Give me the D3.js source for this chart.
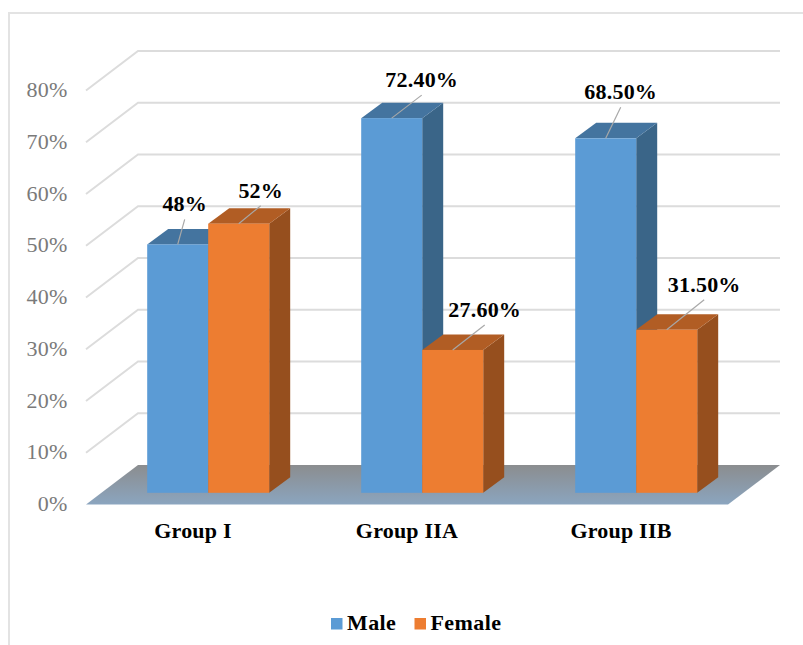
<!DOCTYPE html>
<html>
<head>
<meta charset="utf-8">
<style>
    body { margin: 0; background: #fff; }
    svg { display: block; }
    text { font-family: "Liberation Serif", "Times New Roman", serif; }
</style>
<script src="https://cdn.jsdelivr.net/npm/d3@7"></script>
</head>
<body>
<script>
const groups = ['Group I', 'Group IIA', 'Group IIB'];
const seriesNames = ['Male', 'Female'];
const maleValues = [48, 72.4, 68.5];
const femaleValues = [52, 27.6, 31.5];
const maleLabels = ['48%', '72.40%', '68.50%'];
const femaleLabels = ['52%', '27.60%', '31.50%'];
const yTicks = [0, 10, 20, 30, 40, 50, 60, 70, 80];

const w = 803;
const h = 645;

// front edge of the floor, and how far the back wall sits from it
const left = 86;
const right = 728;
const wallDx = 52;
const wallDy = -39.5;

// bars stand part way back on the floor, and have their own depth
const barShiftX = 15.2;
const barShiftY = -11.7;
const barDx = 21;
const barDy = -15.5;

const colors = {
    Male: { front: '#5b9bd5', top: '#44749f', side: '#3a6588' },
    Female: { front: '#ed7d31', top: '#b15d24', side: '#964f1e' }
};

// leader line end relative to the middle of the bar's top edge
const leaderOffsets = {
    Male: [[7, -25], [30, -23], [15, -31]],
    Female: [[22, -18], [32, -25], [37.5, -30]]
};

const svg = d3.select('body')
    .append('svg')
    .attr('width', w)
    .attr('height', h);

const yScale = d3.scaleLinear()
    .domain([0, 80])
    .range([504.5, 90.5]);

const xScale = d3.scaleBand()
    .domain(groups)
    .range([left, right]);

const barScale = d3.scaleBand()
    .domain(seriesNames)
    .range([46, xScale.bandwidth() - 46]);

// outer frame, open on the right and at the bottom
svg.append('path')
    .attr('d', `M9,${h} V13 H${w}`)
    .attr('fill', 'none')
    .attr('stroke', '#e3e3e3')
    .attr('stroke-width', 2);

// floor
const floorFill = svg.append('defs')
    .append('linearGradient')
    .attr('id', 'floorFill')
    .attr('x1', 0).attr('y1', 0)
    .attr('x2', 0).attr('y2', 1);
floorFill.append('stop').attr('offset', '0%').attr('stop-color', '#8b8d8f');
floorFill.append('stop').attr('offset', '100%').attr('stop-color', '#8ba5bf');

const base = yScale(0);
svg.append('polygon')
    .attr('points', [
        [left, base],
        [left + wallDx, base + wallDy],
        [right + wallDx, base + wallDy],
        [right, base]
    ].join(' '))
    .attr('fill', 'url(#floorFill)');

// gridlines run along the side wall and then the back wall
svg.append('g')
    .selectAll('path')
    .data(yTicks.filter(d => d > 0))
    .enter()
    .append('path')
    .attr('d', d => `M${left},${yScale(d)} l${wallDx},${wallDy} H${right + wallDx}`)
    .attr('fill', 'none')
    .attr('stroke', '#dcdcdc')
    .attr('stroke-width', 2);

const yAxis = d3.axisLeft(yScale)
    .tickValues(yTicks)
    .tickSize(0)
    .tickPadding(0)
    .tickFormat(d => d + '%');

const yAxisG = svg.append('g')
    .attr('transform', 'translate(67.5, -0.8)')
    .call(yAxis);
yAxisG.select('.domain').remove();
yAxisG.selectAll('text')
    .attr('fill', '#7a7a7a')
    .style('font-size', '22px')
    .style('letter-spacing', '0.2px');

const rows = [];
groups.forEach((group, i) => {
    rows.push({ group, series: 'Male', value: maleValues[i], label: maleLabels[i], leader: leaderOffsets.Male[i] });
    rows.push({ group, series: 'Female', value: femaleValues[i], label: femaleLabels[i], leader: leaderOffsets.Female[i] });
});

const barX = d => xScale(d.group) + barScale(d.series) + barShiftX;
const barTop = d => yScale(d.value) + barShiftY;
const barBase = base + barShiftY;
const bw = barScale.bandwidth();

const bars = svg.append('g')
    .selectAll('g')
    .data(rows)
    .enter()
    .append('g');

bars.append('polygon')
    .attr('points', d => [
        [barX(d) + bw, barTop(d)],
        [barX(d) + bw + barDx, barTop(d) + barDy],
        [barX(d) + bw + barDx, barBase + barDy],
        [barX(d) + bw, barBase]
    ].join(' '))
    .attr('fill', d => colors[d.series].side);

bars.append('polygon')
    .attr('points', d => [
        [barX(d), barTop(d)],
        [barX(d) + barDx, barTop(d) + barDy],
        [barX(d) + bw + barDx, barTop(d) + barDy],
        [barX(d) + bw, barTop(d)]
    ].join(' '))
    .attr('fill', d => colors[d.series].top);

bars.append('rect')
    .attr('x', barX)
    .attr('y', barTop)
    .attr('width', bw)
    .attr('height', d => barBase - barTop(d))
    .attr('fill', d => colors[d.series].front);

// value labels and their leader lines go over all the bars
const labels = svg.append('g')
    .selectAll('g')
    .data(rows)
    .enter()
    .append('g');

labels.append('line')
    .attr('x1', d => barX(d) + bw / 2)
    .attr('y1', barTop)
    .attr('x2', d => barX(d) + bw / 2 + d.leader[0])
    .attr('y2', d => barTop(d) + d.leader[1])
    .attr('stroke', '#a8a8a8')
    .attr('stroke-width', 1.2);

labels.append('text')
    .attr('x', d => barX(d) + bw / 2 + d.leader[0])
    .attr('y', d => barTop(d) + d.leader[1] - 8)
    .attr('text-anchor', 'middle')
    .attr('fill', '#000')
    .style('font-size', '22px')
    .style('font-weight', 'bold')
    .style('letter-spacing', '0.2px')
    .text(d => d.label);

svg.append('g')
    .selectAll('text')
    .data(groups)
    .enter()
    .append('text')
    .attr('x', d => xScale(d) + xScale.bandwidth() / 2)
    .attr('y', 538)
    .attr('text-anchor', 'middle')
    .attr('fill', '#000')
    .style('font-size', '22px')
    .style('font-weight', 'bold')
    .style('letter-spacing', '0.2px')
    .text(d => d);

// legend
const legendX = d3.scaleOrdinal()
    .domain(seriesNames)
    .range([331, 414.5]);

const legend = svg.append('g')
    .selectAll('g')
    .data(seriesNames)
    .enter()
    .append('g')
    .attr('transform', d => `translate(${legendX(d)}, 618)`);

legend.append('rect')
    .attr('width', 11.5)
    .attr('height', 11.5)
    .attr('fill', d => colors[d].front);

legend.append('text')
    .attr('x', 16)
    .attr('y', 12)
    .attr('fill', '#000')
    .style('font-size', '22px')
    .style('font-weight', 'bold')
    .style('letter-spacing', '0.4px')
    .text(d => d);
</script>
</body>
</html>
